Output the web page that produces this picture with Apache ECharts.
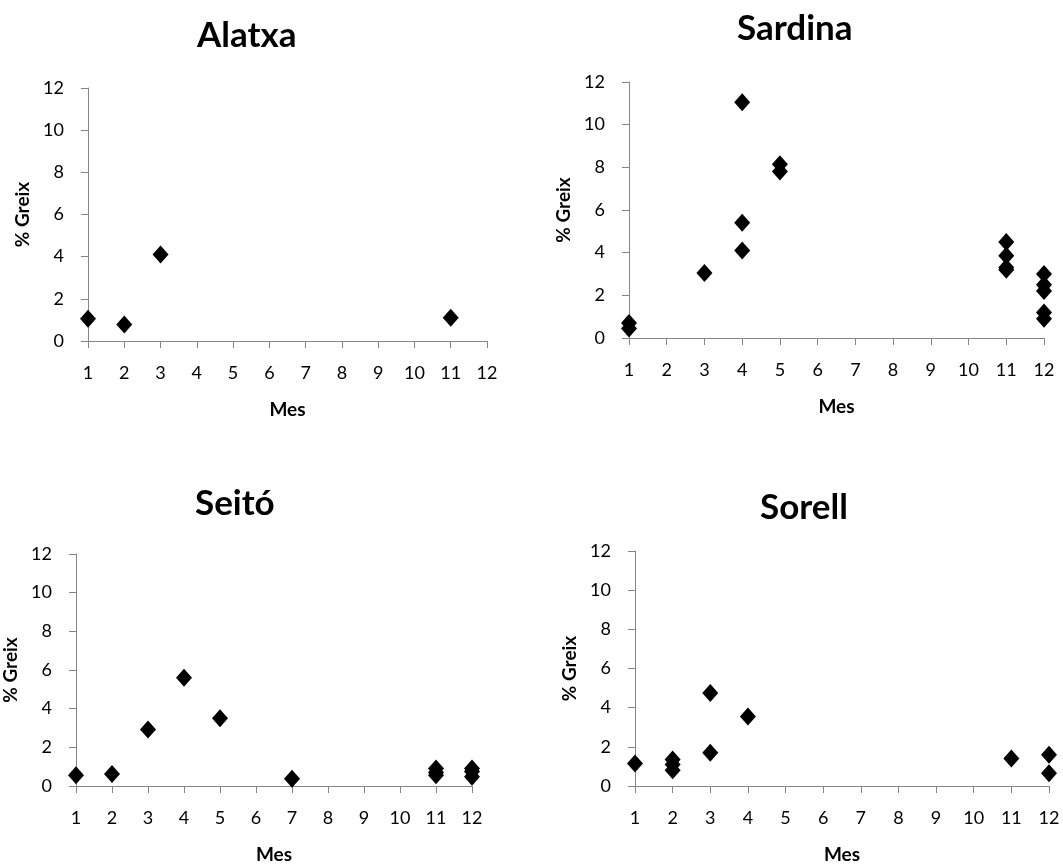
<!DOCTYPE html>
<html>
<head>
<meta charset="UTF-8">
<title>% Greix per mes</title>
<style>
  html, body { margin: 0; padding: 0; background: #fff; }
  #chart { width: 1063px; height: 865px; }
</style>
</head>
<body>
<div id="chart"></div>
<script src="https://cdn.jsdelivr.net/npm/echarts@6/dist/echarts.min.js"></script>
<script>
// dades llegides de la figura
var titols = ['Alatxa', 'Sardina', 'Seitó', 'Sorell'];
var mesTicks = [1, 2, 3, 4, 5, 6, 7, 8, 9, 10, 11, 12];
var greixTicks = [0, 2, 4, 6, 8, 10, 12];

var alatxaMes   = [1, 2, 3, 11];
var alatxaGreix = [1.05, 0.78, 4.1, 1.1];

var sardinaMes   = [1, 1, 3, 4, 4, 4, 5, 5, 11, 11, 11, 11, 12, 12, 12, 12, 12];
var sardinaGreix = [0.7, 0.45, 3.05, 11.05, 5.4, 4.1, 8.15, 7.8, 4.5, 3.85, 3.3, 3.2, 3.0, 2.5, 2.2, 1.2, 0.9];

var seitoMes   = [1, 2, 3, 4, 5, 7, 11, 11, 11, 12, 12, 12];
var seitoGreix = [0.55, 0.62, 2.92, 5.6, 3.5, 0.37, 0.9, 0.7, 0.55, 0.9, 0.75, 0.48];

var sorellMes   = [1, 2, 2, 2, 3, 3, 4, 11, 12, 12];
var sorellGreix = [1.15, 1.35, 1.1, 0.8, 4.75, 1.7, 3.55, 1.4, 1.6, 0.65];

var dades = [
  [alatxaMes, alatxaGreix],
  [sardinaMes, sardinaGreix],
  [seitoMes, seitoGreix],
  [sorellMes, sorellGreix]
];

// posicio de cada panell (px)
var grids = [
  { left: 88,  top: 88,  width: 399, height: 253 },
  { left: 629, top: 82,  width: 415, height: 256 },
  { left: 71,  top: 554, width: 401, height: 234 },
  { left: 635, top: 551, width: 414, height: 235 }
];
var titolPos = [
  { left: 192, top: 13 },
  { left: 732, top: 6 },
  { left: 190, top: 481 },
  { left: 755, top: 485 }
];

var font = 'Lato, "Open Sans", sans-serif';
var gris = '#868686';

var option = {
  animation: false,
  backgroundColor: '#fff',
  title: [],
  grid: [],
  xAxis: [],
  yAxis: [],
  series: []
};

for (var i = 0; i < 4; i++) {
  option.title.push({
    text: titols[i],
    left: titolPos[i].left,
    top: titolPos[i].top,
    textStyle: { fontFamily: font, fontWeight: 'bold', fontSize: 35, color: '#000' }
  });
  option.grid.push(grids[i]);
  option.xAxis.push({
    type: 'value',
    gridIndex: i,
    min: mesTicks[0],
    max: mesTicks[mesTicks.length - 1],
    interval: 1,
    name: 'Mes',
    nameLocation: 'middle',
    nameGap: 59,
    nameTextStyle: { fontFamily: font, fontWeight: 'bold', fontSize: 19, color: '#000' },
    axisLine: { show: true, lineStyle: { color: gris, width: 1 } },
    axisTick: { show: true, length: 7, lineStyle: { color: gris } },
    axisLabel: { margin: 23, fontFamily: font, fontSize: 18, color: '#000' },
    splitLine: { show: false }
  });
  option.yAxis.push({
    type: 'value',
    gridIndex: i,
    min: greixTicks[0],
    max: greixTicks[greixTicks.length - 1],
    interval: 2,
    name: '% Greix',
    nameLocation: 'middle',
    nameGap: 56,
    nameTextStyle: { fontFamily: font, fontWeight: 'bold', fontSize: 19, color: '#000' },
    axisLine: { show: true, lineStyle: { color: gris, width: 1 } },
    axisTick: { show: true, length: 7, lineStyle: { color: gris } },
    axisLabel: { margin: 24, fontFamily: font, fontSize: 18, color: '#000' },
    splitLine: { show: false }
  });
  var punts = dades[i][0].map(function (m, k) { return [m, dades[i][1][k]]; });
  option.series.push({
    type: 'scatter',
    xAxisIndex: i,
    yAxisIndex: i,
    symbol: 'diamond',
    symbolSize: [16, 18],
    clip: false,
    itemStyle: { color: '#000', opacity: 1 },
    data: punts
  });
}

var myChart = echarts.init(document.getElementById('chart'));
myChart.setOption(option);
</script>
</body>
</html>
